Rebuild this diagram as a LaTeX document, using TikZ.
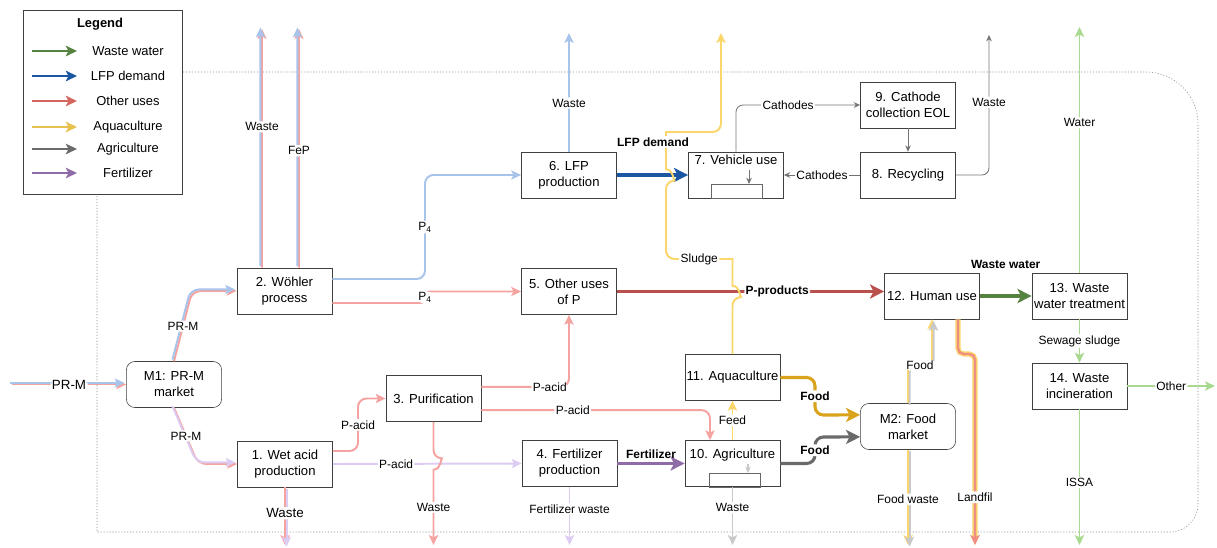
\documentclass[tikz,border=0pt]{standalone}
\usepackage{fontspec}
\setmainfont{Liberation Sans}
\usetikzlibrary{arrows.meta, positioning, calc}

\definecolor{lblue}{HTML}{A9C4EB}
\definecolor{lpink}{HTML}{F4A3A0}
\definecolor{llav}{HTML}{DCCBF2}
\definecolor{lyellow}{HTML}{FBD66A}
\definecolor{lgray}{HTML}{C9C9C9}
\definecolor{lgreen}{HTML}{A8D98E}
\definecolor{lsalmon}{HTML}{F08E84}
\definecolor{wwgreen}{HTML}{55823F}
\definecolor{lfpblue}{HTML}{1B56A3}
\definecolor{pred}{HTML}{B9504E}
\definecolor{ored}{HTML}{D4655F}
\definecolor{fpurple}{HTML}{8F6BA8}
\definecolor{fgold}{HTML}{D9A31B}
\definecolor{agold}{HTML}{E8C04E}
\definecolor{fgray}{HTML}{6A6A6A}

\begin{document}
\begin{tikzpicture}[x=0.025cm, y=-0.025cm,
    box/.style={draw=black!75, fill=white, minimum width=2.38cm, minimum height=1.15cm, inner sep=0.5pt, align=center, font=\fontsize{9.3}{11.4}\selectfont},
    market/.style={box, rounded corners=6pt},
    boxtop/.style={anchor=north, inner sep=2pt, font=\fontsize{9.3}{11.4}\selectfont},
    lbl/.style={fill=white, inner sep=1pt, font=\fontsize{8.5}{10}\selectfont},
    blbl/.style={lbl, font=\fontsize{8.5}{10}\selectfont\bfseries},
    soft/.style={line width=1.4pt, -{Stealth[length=7pt, width=6.5pt, inset=1.5pt]}, rounded corners=6pt},
    bold/.style={line width=2.8pt, -{Stealth[length=10pt, width=10pt, inset=2.5pt]}, rounded corners=6pt},
    thin/.style={draw=black!55, line width=0.6pt, -{Stealth[length=4.5pt, width=4pt]}, rounded corners=5pt},
    twin/.style 2 args={soft, draw=#1, postaction={draw=#2, transform canvas={shift={(-1.1pt,1.1pt)}}}},
    twinr/.style 2 args={soft, draw=#1, postaction={draw=#2, transform canvas={shift={(1.1pt,-1.1pt)}}}},
    boundary/.style={draw=black!45, line width=0.4pt, dash pattern=on 0.8pt off 1.3pt},
    legarrow/.style={line width=1.4pt, -{Stealth[length=8pt, width=7.5pt, inset=2pt]}},
]
\useasboundingbox (0,0) rectangle (1217,547);

% system boundary
\draw[boundary] (97,72) -- (97,532) [rounded corners=0.7cm] -- (1198,532) [rounded corners=1.3cm] -- (1198,72) [rounded corners=1.5cm] -- (97,72);

% markets
\node[market] (m1) at (174,384.5) {M1: PR-M\\market};
\node[market] (m2) at (908,426.5) {M2: Food\\market};

% processes
\node[box] (wet) at (285,464) {1. Wet acid\\production};
\node[box] (wohler) at (284.5,291) {2. Wöhler\\process};
\node[box] (puri) at (433.5,398.5) {3. Purification};
\node[box] (fert) at (569.5,463.5) {4. Fertilizer\\production};
\node[box] (other) at (569,291.5) {5. Other uses\\of P};
\node[box] (lfp) at (569,175) {6. LFP\\production};
\node[box, label={[boxtop]north:7. Vehicle use}] (veh) at (736,175) {};
\node[box] (recyc) at (908,175) {8. Recycling};
\node[box] (cathcol) at (908,105) {9. Cathode\\collection EOL};
\node[box, label={[boxtop, yshift=-0.14cm]north:10. Agriculture}] (agri) at (732.5,463.5) {};
\node[box] (aqua) at (732.5,377.5) {11. Aquaculture};
\node[box] (human) at (932,296) {12. Human use};
\node[box] (wwt) at (1079.5,296) {13. Waste\\water treatment};
\node[box] (incin) at (1079.5,386) {14. Waste\\incineration};

% stock symbols
\draw[black!60, line width=0.5pt] (711,198) rectangle (762,184);
\draw[thin] (749,170) -- (749,184);
\draw[black!60, line width=0.5pt] (709,487) rectangle (760,473);
\draw[thin, draw=lgray, line width=1pt] (748,464) -- (748,473);

% free ends
\coordinate (prmIn) at (12,384.5);
\coordinate (wasteTop) at (262,29);
\coordinate (fepTop) at (299,29);
\coordinate (lfpWaste) at (569,33);
\coordinate (sludgeTop) at (721,33);
\coordinate (recycWaste) at (989,35);
\coordinate (waterTop) at (1079.5,27);
\coordinate (otherOut) at (1215,386);
\coordinate (wetWaste) at (285,545);
\coordinate (puriWaste) at (433.5,545);
\coordinate (fertWaste) at (569.5,545);
\coordinate (agriWaste) at (732.5,545);
\coordinate (foodWaste) at (908,545);
\coordinate (landfil) at (975,545);
\coordinate (issa) at (1079.5,545);

% crossings
\coordinate (hopPacid) at (puri.south |- wet.east);
\coordinate (hopProd) at (aqua.north |- other.east);
\coordinate (hopLfp) at (666,175);

% raw material
\draw[twin={lpink}{lblue}] (prmIn) -- node[lbl, font=\fontsize{9.5}{11}\selectfont] {PR-M} (m1.west);
\draw[twin={lpink}{lblue}] (m1.north) -- node[lbl] {PR-M} (192,291) -- (wohler.west);
\draw[twin={lpink}{llav}] (m1.south) -- node[lbl] {PR-M} (198,464) -- (wet.west);

% Wöhler process
\draw[twin={lpink}{lblue}] ([xshift=-0.5625cm]wohler.north) -- node[lbl, pos=0.59] {Waste} (wasteTop);
\draw[twin={lpink}{lblue}] ([xshift=0.3625cm]wohler.north) -- node[lbl, pos=0.49] {FeP} (fepTop);
\draw[soft, draw=lblue] ([yshift=0.3cm]wohler.east) -- (425,279) -- node[lbl] {P\textsubscript{4}} (425,175) -- (lfp.west);
\draw[soft, draw=lpink, rounded corners=3pt] ([yshift=-0.3cm]wohler.east) -- (425,303) -- node[lbl, inner sep=0.5pt] {P\textsubscript{4}} (425,291.5) -- (other.west);

% wet acid
\draw[soft, draw=lpink] ([yshift=0.325cm]wet.east) -- (358,451) -- node[lbl] {P-acid} (358,398.5) -- (puri.west);
\draw[soft, draw=llav] (wet.east) -- node[lbl, pos=0.335] {P-acid} (fert.west);
\draw[twinr={lpink}{llav}] (wet.south) -- node[lbl, pos=0.45, font=\fontsize{9.5}{11}\selectfont] {Waste} (wetWaste);

% purification
\draw[soft, draw=lpink] ([yshift=0.29cm]puri.east) -| node[lbl, pos=0.39] {P-acid} (other.south);
\draw[soft, draw=lpink] ([yshift=-0.29cm]puri.east) -| node[lbl, pos=0.2] {P-acid} ([xshift=-0.5625cm]agri.north);
\draw[soft, draw=lpink] (puri.south) -- ($(hopPacid)+(0,4pt)$) [sharp corners] .. controls +(5.3pt,0) and +(5.3pt,0) .. ($(hopPacid)+(0,-4pt)$) -- node[lbl] {Waste} (puriWaste);

% fertilizer
\draw[bold, draw=fpurple] (fert.east) -- node[blbl, above=1pt, fill=none] {Fertilizer} (agri.west);
\draw[soft, draw=llav] (fert.south) -- node[lbl, pos=0.38] {Fertilizer waste} (fertWaste);

% LFP chain
\draw[bold, draw=lfpblue] (lfp.east) -- (veh.west);
\draw[soft, draw=lblue] (lfp.north) -- node[lbl, pos=0.41] {Waste} (lfpWaste);
\draw[thin] (veh.north) |- node[lbl, pos=0.71] {Cathodes} (cathcol.west);
\draw[thin] (cathcol) -- (recyc);
\draw[thin] (recyc) -- node[lbl] {Cathodes} (veh);
\draw[thin] (recyc.east) -| node[lbl, pos=0.76] {Waste} (recycWaste);

% other uses
\draw[bold, draw=pred] (other.east) -- node[blbl, pos=0.6] {P-products} (other.east -| human.west);

% sludge, hops over LFP demand and P-products
\draw[soft, draw=lyellow] (aqua.north) -- ($(hopProd)+(0,-4pt)$) [sharp corners] .. controls +(5.3pt,0) and +(5.3pt,0) .. ($(hopProd)+(0,4pt)$) -- (732.5,259) [rounded corners=6pt] -- node[lbl] {Sludge} (666,259) -- ($(hopLfp)+(0,-4pt)$) [sharp corners] .. controls +(5.3pt,0) and +(5.3pt,0) .. ($(hopLfp)+(0,4pt)$) -- (666,132) [rounded corners=6pt] -- (721,132) -- (sludgeTop);
\node[blbl] (lfpdemand) at (653,142) {LFP demand};

% food
\draw[bold, draw=fgold, line width=2.2pt] (aqua.east) -- (815,377.5) -- node[blbl] {Food} (815,415) -- ([yshift=0.29cm]m2.west);
\draw[soft, draw=lyellow] (agri.north) -- node[lbl] {Feed} (aqua.south);
\draw[bold, draw=fgray, line width=2.2pt] (agri.east) -- (815,463.5) -- node[blbl] {Food} (815,437) -- ([yshift=-0.26cm]m2.west);
\draw[soft, draw=lgray] (agri.south) -- node[lbl, pos=0.36] {Waste} (agriWaste);
\draw[twinr={lyellow}{lgray}, rounded corners=4pt] (m2.north) -- (908,365) -- node[lbl] {Food} (932,365) -- (human.south);
\draw[twinr={lyellow}{lgray}] (m2.south) -- node[lbl, pos=0.52] {Food waste} (foodWaste);
\draw[soft, draw=lyellow, line width=3.6pt, rounded corners=4pt, postaction={draw=lsalmon, line width=1.6pt}] ([xshift=0.65cm]human.south) -- (958,354) -- (975,354) -- node[lbl, pos=0.75] {Landfil} (landfil);

% waste water
\draw[bold, draw=wwgreen] (human.east) -- node[blbl, yshift=0.8cm] {Waste water} (wwt.west);
\draw[soft, draw=lgreen] (wwt.north) -- node[lbl, pos=0.61] {Water} (waterTop);
\draw[soft, draw=lgreen] (wwt) -- node[lbl] {Sewage sludge} (incin);
\draw[soft, draw=lgreen] (incin.east) -- node[lbl] {Other} (otherOut);
\draw[soft, draw=lgreen] (incin.south) -- node[lbl, pos=0.54] {ISSA} (issa);

% legend
\node[draw=black!75, fill=white, minimum width=3.975cm, minimum height=4.6cm] (legend) at (102.5,102) {};
\node[font=\fontsize{9.2}{11}\selectfont\bfseries] (legtitle) at (100,24) {Legend};
\foreach \legy/\legc/\legt in {51/wwgreen/Waste water, 76/lfpblue/LFP demand, 101/ored/Other uses, 127/agold/Aquaculture, 149/fgray/Agriculture, 173/fpurple/Fertilizer}
{
  \draw[legarrow, draw=\legc] (32,\legy) -- (77,\legy);
  \node[font=\fontsize{9.2}{11}\selectfont] (leg\legy) at (128,\legy) {\legt};
}
\end{tikzpicture}
\end{document}
